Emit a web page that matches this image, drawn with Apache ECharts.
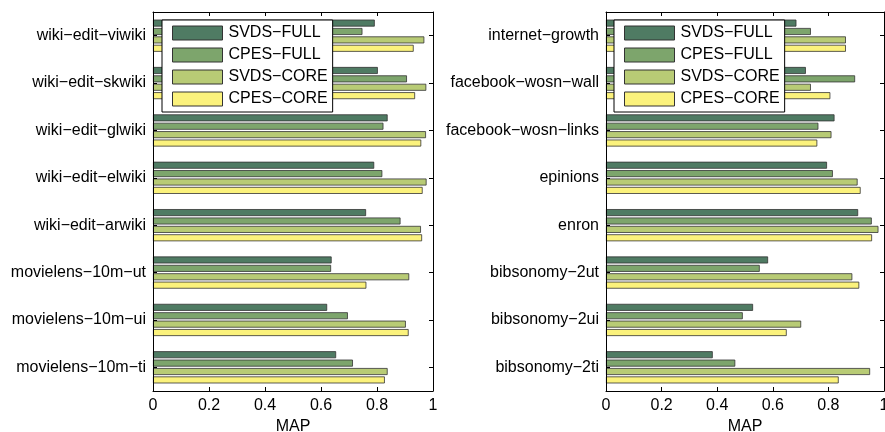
<!DOCTYPE html>
<html><head><meta charset="utf-8">
<script src="https://cdn.jsdelivr.net/npm/echarts@6/dist/echarts.min.js"></script>
<style>html,body{margin:0;padding:0;background:#fff}#c{width:885px;height:432px}</style>
</head><body><div id="c"></div>
<script>
const seriesNames = ['SVDS−FULL', 'CPES−FULL', 'SVDS−CORE', 'CPES−CORE'];
const seriesColors = ['#4f7b63', '#7da56c', '#b8cb75', '#fbf27c'];
const xTicks = [0, 0.2, 0.4, 0.6, 0.8, 1];

const leftCategories = ['wiki−edit−viwiki', 'wiki−edit−skwiki', 'wiki−edit−glwiki', 'wiki−edit−elwiki',
  'wiki−edit−arwiki', 'movielens−10m−ut', 'movielens−10m−ui', 'movielens−10m−ti'];
const leftSvdsFull = [0.792, 0.803, 0.838, 0.790, 0.761, 0.638, 0.622, 0.654];
const leftCpesFull = [0.748, 0.907, 0.823, 0.819, 0.884, 0.636, 0.696, 0.714];
const leftSvdsCore = [0.969, 0.976, 0.975, 0.977, 0.957, 0.915, 0.903, 0.838];
const leftCpesCore = [0.931, 0.936, 0.958, 0.963, 0.961, 0.762, 0.913, 0.828];

const rightCategories = ['internet−growth', 'facebook−wosn−wall', 'facebook−wosn−links', 'epinions',
  'enron', 'bibsonomy−2ut', 'bibsonomy−2ui', 'bibsonomy−2ti'];
const rightSvdsFull = [0.685, 0.719, 0.822, 0.795, 0.907, 0.583, 0.529, 0.384];
const rightCpesFull = [0.737, 0.896, 0.764, 0.816, 0.956, 0.553, 0.492, 0.465];
const rightSvdsCore = [0.863, 0.737, 0.811, 0.905, 0.980, 0.886, 0.702, 0.950];
const rightCpesCore = [0.863, 0.807, 0.760, 0.916, 0.957, 0.911, 0.650, 0.837];

const FONT = 'Liberation Sans, Arial, Helvetica, sans-serif';
const leftData = [leftSvdsFull, leftCpesFull, leftSvdsCore, leftCpesCore];
const rightData = [rightSvdsFull, rightCpesFull, rightSvdsCore, rightCpesCore];

function xAx(grid, pos, showLabel) {
  return {
    type: 'value', gridIndex: grid, position: pos, min: xTicks[0], max: xTicks[xTicks.length - 1],
    interval: xTicks[1] - xTicks[0], z: 5,
    axisLine: { show: true, onZero: false, lineStyle: { color: '#000', width: 1 } },
    axisTick: { show: true, inside: true, length: 4, lineStyle: { color: '#000' } },
    splitLine: { show: false },
    axisLabel: { show: showLabel, color: '#000', fontSize: 16, fontFamily: FONT, margin: 7,
      formatter: v => (v === 0 ? '0' : v === 1 ? '1' : String(Math.round(v * 10) / 10)) },
    name: showLabel ? 'MAP' : '', nameLocation: 'middle', nameGap: 25,
    nameTextStyle: { color: '#000', fontSize: 16, fontFamily: FONT }
  };
}
function yAx(grid, pos, cats, showLabel) {
  return {
    type: 'category', gridIndex: grid, position: pos, data: cats, inverse: true, z: 5,
    axisLine: { show: true, onZero: false, lineStyle: { color: '#000', width: 1 } },
    axisTick: { show: true, inside: true, length: 4, alignWithLabel: true, lineStyle: { color: '#000' } },
    splitLine: { show: false },
    axisLabel: { show: showLabel, color: '#000', fontSize: 16, fontFamily: FONT, margin: 7 }
  };
}

const series = [];
[leftData, rightData].forEach((set, gi) => {
  set.forEach((vals, si) => {
    series.push({
      type: 'bar', name: seriesNames[si], data: vals,
      xAxisIndex: gi * 2, yAxisIndex: gi * 2,
      barWidth: 7, barGap: '20%',
      itemStyle: { color: seriesColors[si], borderColor: '#333', borderWidth: 0.8 }
    });
  });
});

function legend(left) {
  return {
    data: seriesNames, orient: 'vertical', left: left, top: 20,
    itemWidth: 50, itemHeight: 14, itemGap: 6,
    padding: [5, 5, 5, 10],
    backgroundColor: '#fff', borderColor: '#000', borderWidth: 1,
    selectedMode: false,
    icon: 'rect',
    itemStyle: { borderColor: '#333', borderWidth: 1 },
    textStyle: { color: '#000', fontSize: 16, fontFamily: FONT, lineHeight: 14, padding: [0, 0, 0, 1] }
  };
}

const chart = echarts.init(document.getElementById('c'), null, { renderer: 'canvas' });
chart.setOption({
  animation: false,
  backgroundColor: '#fff',
  grid: [
    { left: 153, right: 452, top: 12, bottom: 41, outerBoundsMode: 'none', containLabel: false },
    { left: 606, right: 1, top: 12, bottom: 41, outerBoundsMode: 'none', containLabel: false }
  ],
  xAxis: [xAx(0, 'bottom', true), xAx(0, 'top', false), xAx(1, 'bottom', true), xAx(1, 'top', false)],
  yAxis: [yAx(0, 'left', leftCategories, true), yAx(0, 'right', leftCategories, false),
          yAx(1, 'left', rightCategories, true), yAx(1, 'right', rightCategories, false)],
  legend: [legend(162), legend(614)],
  series: series
});
</script></body></html>
